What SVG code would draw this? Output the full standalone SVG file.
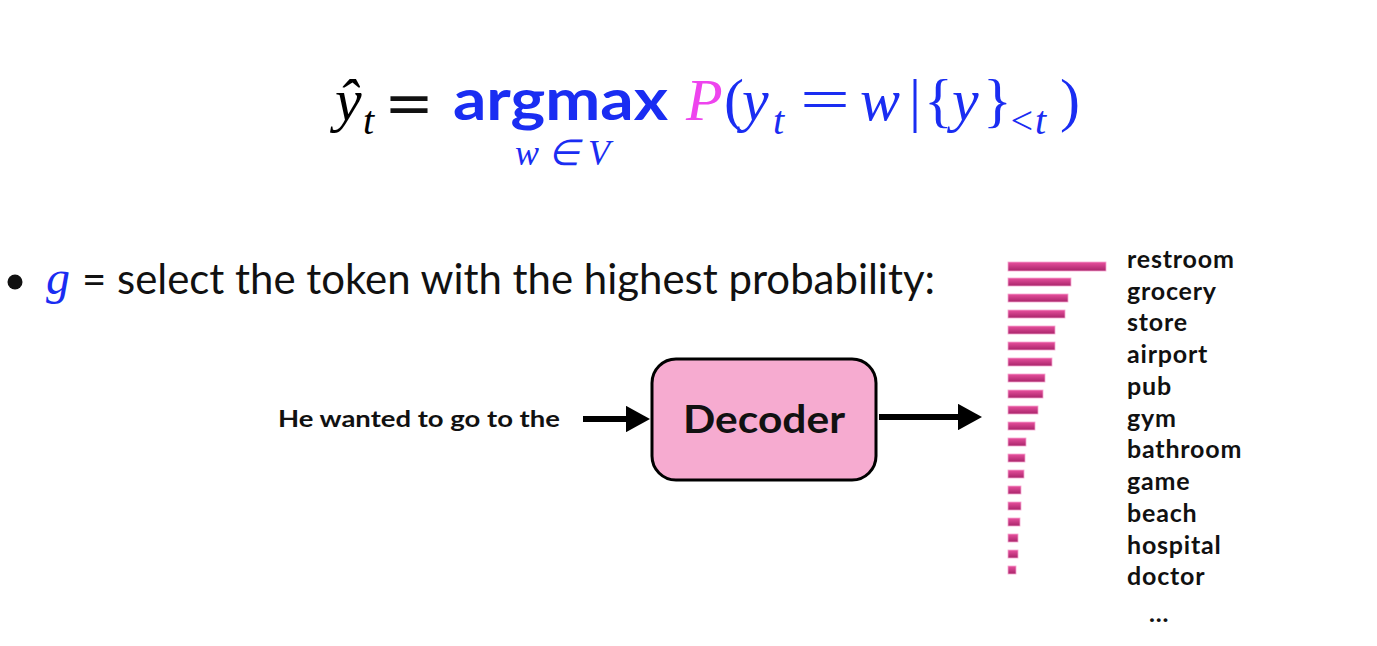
<svg xmlns="http://www.w3.org/2000/svg" width="1377" height="646" viewBox="0 0 1377 646">
<style>
.serif{font-family:"Liberation Serif","Times New Roman",serif;font-style:italic}
.rom{font-family:"Liberation Serif","Times New Roman",serif}
.blue{fill:#1a2df2}
.word{font-family:Lato,"Noto Sans",sans-serif;font-weight:700;font-size:25px;letter-spacing:0.8px;fill:#111}
.bar{fill:url(#barg);stroke:#f6a6cf;stroke-width:0.8}
</style>
<defs>
<linearGradient id="barg" x1="0" y1="0" x2="0" y2="1">
<stop offset="0" stop-color="#e8509e"/>
<stop offset="1" stop-color="#a8246a"/>
</linearGradient>
<marker id="ah" markerWidth="4" markerHeight="4.4" refX="0" refY="2.2" orient="auto" markerUnits="strokeWidth">
<path d="M0,0 L4,2.2 L0,4.4 Z" fill="#000"/>
</marker>
</defs>
<rect width="1377" height="646" fill="#fff"/>

<g id="equation">
<text class="serif" x="335" y="120" font-size="60">ŷ</text>
<text class="serif" x="363" y="134" font-size="40">t</text>
<text x="384" y="128" font-family="Lato,sans-serif" font-size="70" fill="#111" textLength="50" lengthAdjust="spacingAndGlyphs">=</text>
<text x="453" y="120" font-family="Lato,sans-serif" font-weight="700" font-size="58" class="blue" textLength="215" lengthAdjust="spacingAndGlyphs">argmax</text>
<text class="serif blue" x="515" y="165" font-size="36">w ∈ V</text>
<text class="serif" x="686" y="120" font-size="60" fill="#ee44ee">P</text>
<text x="724" y="120" font-size="60" class="rom blue">(</text>
<text class="serif blue" x="742" y="120" font-size="60">y</text>
<text class="serif blue" x="773" y="134" font-size="40">t</text>
<text x="800" y="120" font-size="62" class="rom blue" textLength="50" lengthAdjust="spacingAndGlyphs">=</text>
<text class="serif blue" x="860" y="120" font-size="60">w</text>
<text x="909" y="120" font-size="60" class="rom blue">|</text>
<text x="924" y="120" font-size="60" class="rom blue">{</text>
<text class="serif blue" x="952" y="120" font-size="60">y</text>
<text x="983" y="120" font-size="60" class="rom blue">}</text>
<text class="serif blue" x="1008" y="134" font-size="40">&lt;t</text>
<text x="1060" y="120" font-size="60" class="rom blue">)</text>
</g>

<g id="bullet">
<circle cx="15" cy="282" r="7.5" fill="#111"/>
<text class="serif blue" x="46" y="294" font-size="48">g</text>
<text x="82" y="294" font-family="Lato,sans-serif" font-size="42" fill="#111" textLength="853" lengthAdjust="spacingAndGlyphs">= select the token with the highest probability:</text>
</g>

<g id="input">
<text x="278" y="427" font-family="Lato,sans-serif" font-weight="700" font-size="22" fill="#111" textLength="282" lengthAdjust="spacingAndGlyphs">He wanted to go to the</text>
</g>

<g id="decoder">
<rect x="652" y="359" width="224" height="121" rx="24" fill="#f6abd0" stroke="#000" stroke-width="3"/>
<text x="683" y="433" font-family="Lato,sans-serif" font-weight="700" font-size="39" fill="#111" textLength="162" lengthAdjust="spacingAndGlyphs">Decoder</text>
</g>

<g id="connectors">
<line x1="583" y1="419" x2="626" y2="419" stroke="#000" stroke-width="6" marker-end="url(#ah)"/>
<line x1="879" y1="417" x2="958" y2="417" stroke="#000" stroke-width="6" marker-end="url(#ah)"/>
</g>

<g id="distribution">
<rect class="bar" x="1008" y="262" width="98" height="9"/>
<rect class="bar" x="1008" y="278" width="63" height="8"/>
<rect class="bar" x="1008" y="294" width="60" height="8"/>
<rect class="bar" x="1008" y="310" width="57" height="8"/>
<rect class="bar" x="1008" y="326" width="47" height="8"/>
<rect class="bar" x="1008" y="342" width="47" height="8"/>
<rect class="bar" x="1008" y="358" width="44" height="8"/>
<rect class="bar" x="1008" y="374" width="37" height="8"/>
<rect class="bar" x="1008" y="390" width="35" height="8"/>
<rect class="bar" x="1008" y="406" width="30" height="8"/>
<rect class="bar" x="1008" y="422" width="27" height="8"/>
<rect class="bar" x="1008" y="438" width="18" height="8"/>
<rect class="bar" x="1008" y="454" width="17" height="8"/>
<rect class="bar" x="1008" y="470" width="16" height="8"/>
<rect class="bar" x="1008" y="486" width="13" height="8"/>
<rect class="bar" x="1008" y="502" width="13" height="8"/>
<rect class="bar" x="1008" y="518" width="12" height="8"/>
<rect class="bar" x="1008" y="534" width="10" height="8"/>
<rect class="bar" x="1008" y="550" width="10" height="8"/>
<rect class="bar" x="1008" y="566" width="8" height="8"/>
</g>

<g id="words">
<text class="word" x="1127" y="268">restroom</text>
<text class="word" x="1127" y="300">grocery</text>
<text class="word" x="1127" y="331">store</text>
<text class="word" x="1127" y="363">airport</text>
<text class="word" x="1127" y="395">pub</text>
<text class="word" x="1127" y="427">gym</text>
<text class="word" x="1127" y="458">bathroom</text>
<text class="word" x="1127" y="490">game</text>
<text class="word" x="1127" y="522">beach</text>
<text class="word" x="1127" y="554">hospital</text>
<text class="word" x="1127" y="585">doctor</text>
<text class="word" x="1149" y="622" font-size="30">...</text>
</g>
</svg>
